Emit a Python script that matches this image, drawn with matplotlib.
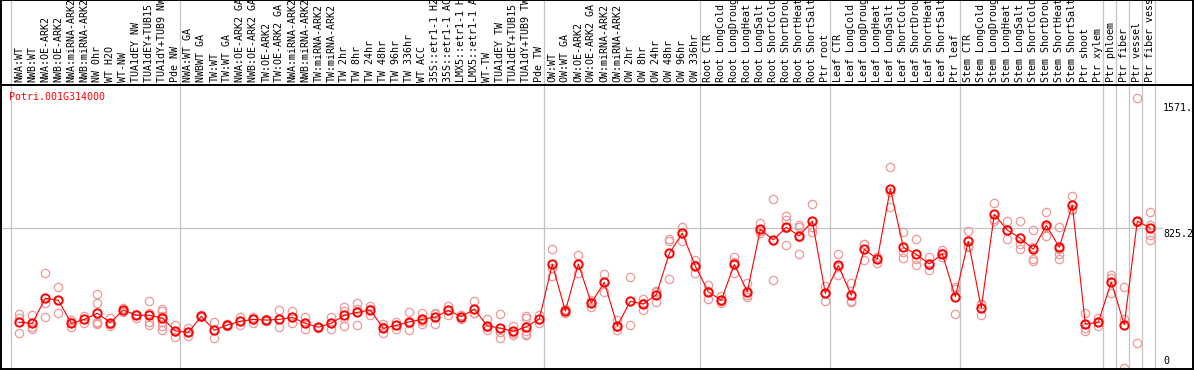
import matplotlib
matplotlib.use('Agg')
import matplotlib.pyplot as plt

# column labels (left to right)
labels = [
    "NWA:WT", "NWB:WT", "NWA:OE-ARK2", "NWB:OE-ARK2", "NWA:miRNA-ARK2", "NWB:miRNA-ARK2",
    "NW 0hr", "WT H2O", "WT-NW", "TUA1dEY NW", "TUA1dEY+TUB15 NW", "TUA1dY+TUB9 NW", "Pde NW",
    "NWA:WT GA", "NWBWT GA", "TW:WT", "TW:WT GA", "NWA:OE-ARK2 GA", "NWB:OE-ARK2 GA",
    "TW:OE-ARK2", "TW:OE-ARK2 GA", "NWA:miRNA-ARK2", "NWB:miRNA-ARK2", "TW:miRNA-ARK2",
    "TW:miRNA-ARK2", "TW 2hr", "TW 8hr", "TW 24hr", "TW 48hr", "TW 96hr", "TW 336hr", "WT ACC",
    "35S::etr1-1 H2O", "35S::etr1-1 ACC", "LMX5::etr1-1 H2O", "LMX5::etr1-1 ACC", "WT-TW",
    "TUA1dEY TW", "TUA1dEY+TUB15 TW", "TUA1dY+TUB9 TW", "Pde TW",
    "OW:WT", "OW:WT GA", "OW:OE-ARK2", "OW:OE-ARK2 GA", "OW:miRNA-ARK2", "OW:miRNA-ARK2",
    "OW 2hr", "OW 8hr", "OW 24hr", "OW 48hr", "OW 96hr", "OW 336hr",
    "Root CTR", "Root LongCold", "Root LongDrought", "Root LongHeat", "Root LongSalt",
    "Root ShortCold", "Root ShortDrought", "Root ShortHeat", "Root ShortSalt", "Ptr root",
    "Leaf CTR", "Leaf LongCold", "Leaf LongDrought", "Leaf LongHeat", "Leaf LongSalt",
    "Leaf ShortCold", "Leaf ShortDrought", "Leaf ShortHeat", "Leaf ShortSalt", "Ptr leaf",
    "Stem CTR", "Stem LongCold", "Stem LongDrought", "Stem LongHeat", "Stem LongSalt",
    "Stem ShortCold", "Stem ShortDrought", "Stem ShortHeat", "Stem ShortSalt",
    "Ptr shoot", "Ptr xylem", "Ptr phloem", "Ptr fiber", "Ptr vessel", "Ptr fiber vessel",
]

# first column of each group (last entry = end)
group_starts = [0, 13, 41, 53, 63, 73, 84, 85, 86, 87, 88]

means = [
    274, 268, 415, 403, 268, 291, 327, 272, 346, 315, 315, 299, 223,
    215, 309, 227, 258, 280, 291, 287, 291, 303, 268, 245, 268, 315, 332, 346, 239,
    256, 277, 291, 305, 344, 307, 350, 254, 240, 221, 248, 293,
    614, 340, 616, 387, 508, 254, 397, 381, 436, 678, 796, 604,
    453, 403, 614, 453, 819, 757, 831, 780, 868, 444,
    608, 432, 702, 645, 1057, 714, 673, 616, 676, 424,
    749, 358, 907, 815, 767, 702, 843, 714, 962, 264, 274,
    510, 260, 868, 827,
]

replicates = [
    [323, 299, 214], [315, 248, 235], [563, 385, 303], [481, 403, 327], [285, 275, 244],
    [311, 291, 268], [440, 387, 277, 262, 269], [299, 265, 252], [356, 346, 337],
    [323, 315, 299], [397, 277, 258, 328], [350, 342, 310, 277, 252, 227], [256, 223, 189],
    [239, 215, 194], [315, 309, 303], [274, 227, 184], [262, 258, 254], [307, 280, 258],
    [307, 291, 268], [291, 287, 283], [346, 291, 245], [342, 303, 272], [307, 268, 233],
    [249, 245, 241], [307, 268, 236], [365, 342, 252, 300], [389, 352, 256],
    [369, 354, 315], [264, 244, 209], [276, 256, 236], [334, 270, 227], [327, 283, 264],
    [330, 320, 264], [369, 348, 315], [319, 307, 295], [397, 327, 327],
    [291, 245, 227], [321, 240, 215, 184], [252, 221, 199, 213], [311, 299, 223, 199, 208],
    [317, 293, 268],
    [704, 594, 545], [350, 344, 327], [669, 616, 565], [405, 391, 365], [557, 513, 453],
    [287, 246, 229], [538, 397, 258], [409, 388, 346], [453, 460, 395], [761, 748, 526],
    [835, 800, 752], [639, 612, 561],
    [493, 455, 410], [428, 396, 385], [655, 626, 561], [503, 432, 424], [854, 808, 796],
    [995, 757, 520], [897, 874, 725, 829], [845, 831, 673, 772], [966, 835, 802],
    [487, 444, 401],
    [673, 600, 551], [503, 400, 395], [733, 733, 639], [655, 657, 623], [1183, 1040, 948],
    [802, 689, 651], [761, 648, 610], [655, 612, 581], [698, 680, 657], [471, 480, 321],
    [808, 718, 721], [379, 380, 315], [972, 880, 868], [868, 816, 761], [868, 731, 702],
    [815, 647, 633, 713], [921, 830, 778], [831, 705, 673, 647], [1015, 938, 933],
    [330, 239, 223], [297, 274, 251],
    [550, 536, 444], [481, 291, 8], [1588, 864, 152], [921, 786, 757, 845],
]

gene = "Potri.001G314000"
ytick_vals = [1571, 825.2, 0]
ytick_text = ["1571.", "825.2", "0"]

W, H = 1194, 370
mono = "DejaVu Sans Mono"
fs = 7.2
grid_c = "#c4c4c4"


def px_x(px):
    # pixel column -> column index
    return (px - 19.3) / 13.0


fig = plt.figure(figsize=(W / 100, H / 100), dpi=100)
hdr = fig.add_axes([1 / W, 1 - 85 / H, 1192 / W, 85 / H])
ax = fig.add_axes([1 / W, 1 / H, 1192 / W, 284 / H])

xlim = (px_x(1), px_x(1193))

# header with rotated labels
hdr.set_xlim(xlim)
hdr.set_ylim(85, 0)
for b in group_starts:
    hdr.axvline(b - 0.65, color=grid_c, lw=0.9, zorder=0)
for i, lab in enumerate(labels):
    hdr.text(i, 82, lab, rotation=90, ha="center", va="bottom",
             family=mono, fontsize=fs, color="black", clip_on=True)
hdr.set_xticks([])
hdr.set_yticks([])

# plot area
ymax = 284 / 0.1705
ax.set_xlim(xlim)
ax.set_ylim(0, ymax)
for b in group_starts:
    ax.axvline(b - 0.65, color=grid_c, lw=0.9, zorder=0)
ax.plot([xlim[0], px_x(1162)], [825.2, 825.2], color=grid_c, lw=0.9, zorder=0)

xs = list(range(len(means)))
for i, vals in enumerate(replicates):
    ax.plot([i] * len(vals), vals, linestyle="none", marker="o", ms=6,
            mfc="none", mec="#ee9898", mew=0.9, zorder=2)
ax.plot(xs, means, color="red", lw=0.8, zorder=3)
ax.plot(xs, means, linestyle="none", marker="o", ms=6, mfc="none",
        mec="red", mew=1.4, zorder=4)

# value labels on the right
x_lab = px_x(1163)
ax.text(x_lab, ytick_vals[0] - 1.5 / 0.1705, ytick_text[0], family=mono, fontsize=fs,
        va="top", ha="left")
ax.text(x_lab, ytick_vals[1] - 0.5 / 0.1705, ytick_text[1], family=mono, fontsize=fs,
        va="top", ha="left")
ax.text(x_lab, ytick_vals[2] + 2.5 / 0.1705, ytick_text[2], family=mono, fontsize=fs,
        va="bottom", ha="left")

ax.set_xticks([])
ax.set_yticks([])

for a in (hdr, ax):
    for s in a.spines.values():
        s.set_color("black")
        s.set_linewidth(1.4)

fig.text(9 / W, 1 - 92 / H, gene, color="red", family=mono, fontsize=fs,
         va="top", ha="left")

fig.savefig("out.png", dpi=100)
